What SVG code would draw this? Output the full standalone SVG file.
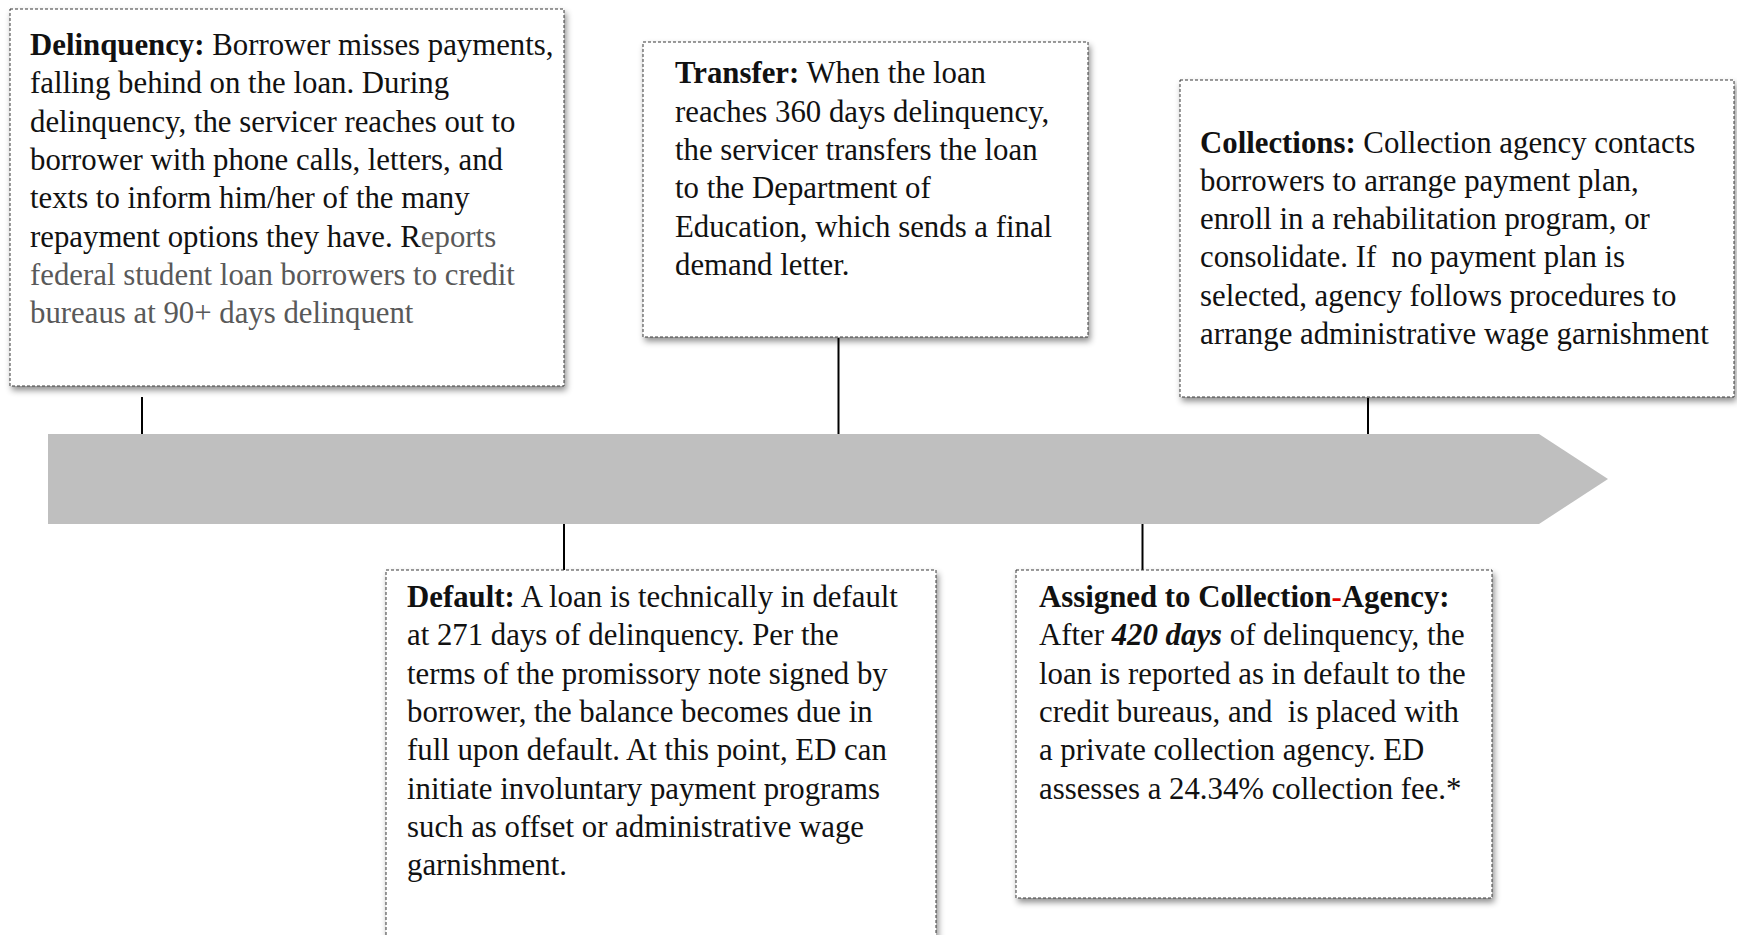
<svg xmlns="http://www.w3.org/2000/svg" width="1737" height="935" viewBox="0 0 1737 935">
<style>
.box{fill:#fff;stroke:#3a3a3a;stroke-width:1;stroke-dasharray:3 2;filter:url(#sh)}
.t{font-family:"Liberation Serif","Times New Roman",serif;font-size:30.8px;fill:#111}
.b{font-weight:bold}
.g{fill:#595959}
.conn{stroke:#000;stroke-width:2;fill:none}
</style>
<defs>
<filter id="sh" x="-5%" y="-5%" width="115%" height="120%">
<feDropShadow dx="2" dy="4" stdDeviation="3" flood-color="#000" flood-opacity="0.45"/>
</filter>
</defs>
<rect width="1737" height="935" fill="#fff"/>
<g id="timeline">
<polygon points="48,434 1539,434 1608,479 1539,524 48,524" fill="#bfbfbf"/>
</g>
<g id="connectors">
<line class="conn" x1="142" y1="397" x2="142" y2="434"/>
<line class="conn" x1="838.5" y1="338" x2="838.5" y2="434"/>
<line class="conn" x1="1368" y1="398" x2="1368" y2="434"/>
<line class="conn" x1="564" y1="524" x2="564" y2="570"/>
<line class="conn" x1="1142.5" y1="524" x2="1142.5" y2="570"/>
</g>
<g id="delinquency">
<rect class="box" x="10" y="9" width="554" height="377"/>
<text class="t" x="30">
<tspan x="30" y="55"><tspan class="b">Delinquency:</tspan> Borrower misses payments,</tspan>
<tspan x="30" y="93.3">falling behind on the loan. During</tspan>
<tspan x="30" y="131.6">delinquency, the servicer reaches out to</tspan>
<tspan x="30" y="169.9">borrower with phone calls, letters, and</tspan>
<tspan x="30" y="208.2">texts to inform him/her of the many</tspan>
<tspan x="30" y="246.5">repayment options they have. R<tspan class="g">eports</tspan></tspan>
<tspan x="30" y="284.8" class="g">federal student loan borrowers to credit</tspan>
<tspan x="30" y="323.1" class="g">bureaus at 90+ days delinquent</tspan>
</text>
</g>
<g id="transfer">
<rect class="box" x="643" y="42" width="445" height="295"/>
<text class="t">
<tspan x="675" y="83.3"><tspan class="b">Transfer:</tspan> When the loan</tspan>
<tspan x="675" y="121.6">reaches 360 days delinquency,</tspan>
<tspan x="675" y="159.9">the servicer transfers the loan</tspan>
<tspan x="675" y="198.2">to the Department of</tspan>
<tspan x="675" y="236.5">Education, which sends a final</tspan>
<tspan x="675" y="274.8">demand letter.</tspan>
</text>
</g>
<g id="collections">
<rect class="box" x="1180" y="80" width="554" height="317"/>
<text class="t">
<tspan x="1200" y="152.5"><tspan class="b">Collections:</tspan> Collection agency contacts</tspan>
<tspan x="1200" y="190.8">borrowers to arrange payment plan,</tspan>
<tspan x="1200" y="229.1">enroll in a rehabilitation program, or</tspan>
<tspan x="1200" y="267.4" xml:space="preserve">consolidate. If  no payment plan is</tspan>
<tspan x="1200" y="305.7">selected, agency follows procedures to</tspan>
<tspan x="1200" y="344">arrange administrative wage garnishment</tspan>
</text>
</g>
<g id="default">
<rect class="box" x="386" y="570" width="550" height="380"/>
<text class="t">
<tspan x="407" y="607"><tspan class="b">Default:</tspan> A loan is technically in default</tspan>
<tspan x="407" y="645.3">at 271 days of delinquency. Per the</tspan>
<tspan x="407" y="683.6">terms of the promissory note signed by</tspan>
<tspan x="407" y="721.9">borrower, the balance becomes due in</tspan>
<tspan x="407" y="760.2">full upon default. At this point, ED can</tspan>
<tspan x="407" y="798.5">initiate involuntary payment programs</tspan>
<tspan x="407" y="836.8">such as offset or administrative wage</tspan>
<tspan x="407" y="875.1">garnishment.</tspan>
</text>
</g>
<g id="assigned">
<rect class="box" x="1016" y="570" width="476" height="328"/>
<text class="t">
<tspan x="1039" y="607" class="b">Assigned to Collection<tspan fill="#e00000">-</tspan>Agency:</tspan>
<tspan x="1039" y="645.3">After <tspan class="b" font-style="italic">420 days</tspan> of delinquency, the</tspan>
<tspan x="1039" y="683.6">loan is reported as in default to the</tspan>
<tspan x="1039" y="721.9" xml:space="preserve">credit bureaus, and  is placed with</tspan>
<tspan x="1039" y="760.2">a private collection agency. ED</tspan>
<tspan x="1039" y="798.5">assesses a 24.34% collection fee.*</tspan>
</text>
</g>
</svg>
